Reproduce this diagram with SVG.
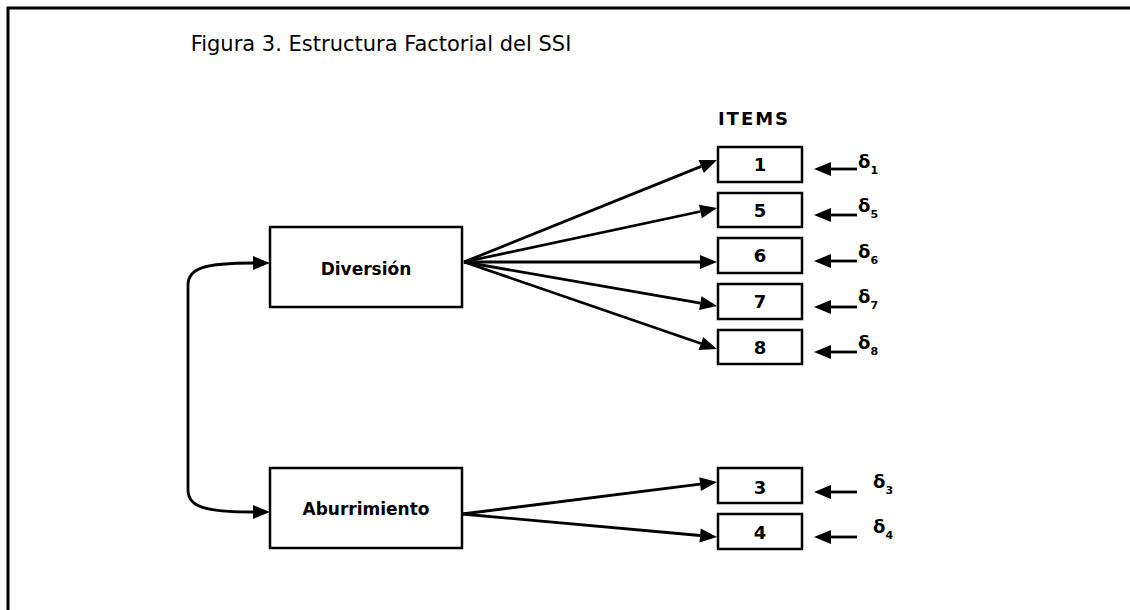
<svg xmlns="http://www.w3.org/2000/svg" width="1130" height="610" viewBox="0 0 1130 610">
  <style>
    .box { fill: #fff; stroke: #000; stroke-width: 2.5; }
    .edge { fill: none; stroke: #000; stroke-width: 2.8; }
    .lbl { font-family: "DejaVu Sans", "Liberation Sans", sans-serif; font-weight: bold; fill: #000; text-anchor: middle; }
    .factor { font-size: 17px; }
    .item { font-size: 18px; }
    .err { font-family: "DejaVu Sans", "Liberation Sans", sans-serif; font-size: 18px; font-weight: bold; fill: #000; }
    .sub { font-size: 11px; font-weight: bold; }
  </style>
  <defs>
    <marker id="head" markerUnits="userSpaceOnUse" markerWidth="17" markerHeight="14" viewBox="0 -7 17 14" refX="0" refY="0" orient="auto-start-reverse" overflow="visible">
      <path d="M0,-7 L17,0 L0,7 z" fill="#000"/>
    </marker>
  </defs>

  <rect width="1130" height="610" fill="#fff"/>
  <!-- frame -->
  <path d="M8,612 V8 H1132" fill="none" stroke="#000" stroke-width="3"/>

  <text x="381" y="51" font-family="DejaVu Sans, Liberation Sans, sans-serif" font-size="21" text-anchor="middle" fill="#000">Figura 3. Estructura Factorial del SSI</text>
  <text x="754" y="125" class="lbl" font-size="18" letter-spacing="2">ITEMS</text>

  <!-- factors -->
  <g id="diversion">
    <rect class="box" x="270" y="227" width="192" height="80"/>
    <text class="lbl factor" x="366" y="275">Diversión</text>
  </g>
  <g id="aburrimiento">
    <rect class="box" x="270" y="468" width="192" height="80"/>
    <text class="lbl factor" x="366" y="515">Aburrimiento</text>
  </g>

  <!-- indicators -->
  <g id="item1">
    <rect class="box" x="718" y="147" width="84" height="35"/>
    <text class="lbl item" x="760" y="171">1</text>
  </g>
  <g id="item5">
    <rect class="box" x="718" y="193" width="84" height="34"/>
    <text class="lbl item" x="760" y="217">5</text>
  </g>
  <g id="item6">
    <rect class="box" x="718" y="238" width="84" height="35"/>
    <text class="lbl item" x="760" y="262">6</text>
  </g>
  <g id="item7">
    <rect class="box" x="718" y="284" width="84" height="35"/>
    <text class="lbl item" x="760" y="308">7</text>
  </g>
  <g id="item8">
    <rect class="box" x="718" y="330" width="84" height="34"/>
    <text class="lbl item" x="760" y="354">8</text>
  </g>
  <g id="item3">
    <rect class="box" x="718" y="468" width="84" height="35"/>
    <text class="lbl item" x="760" y="494">3</text>
  </g>
  <g id="item4">
    <rect class="box" x="718" y="514" width="84" height="35"/>
    <text class="lbl item" x="760" y="539">4</text>
  </g>

  <!-- error terms -->
  <g id="errors">
    <text class="err" x="858" y="168">δ<tspan class="sub" dy="6">1</tspan></text>
    <text class="err" x="858" y="212">δ<tspan class="sub" dy="6">5</tspan></text>
    <text class="err" x="858" y="258">δ<tspan class="sub" dy="6">6</tspan></text>
    <text class="err" x="858" y="303">δ<tspan class="sub" dy="6">7</tspan></text>
    <text class="err" x="858" y="349">δ<tspan class="sub" dy="6">8</tspan></text>
    <text class="err" x="873" y="488">δ<tspan class="sub" dy="6">3</tspan></text>
    <text class="err" x="873" y="533">δ<tspan class="sub" dy="6">4</tspan></text>
  </g>

  <g id="connectors">
    <!-- loadings -->
    <path class="edge" marker-end="url(#head)" d="M464,262 L701.2,166.4"/>
    <path class="edge" marker-end="url(#head)" d="M464,262 L700.4,211.5"/>
    <path class="edge" marker-end="url(#head)" d="M464,262 L700,262"/>
    <path class="edge" marker-end="url(#head)" d="M464,262 L700.3,303.1"/>
    <path class="edge" marker-end="url(#head)" d="M464,262 L700.9,343.5"/>
    <path class="edge" marker-end="url(#head)" d="M462,514 L700.1,484.1"/>
    <path class="edge" marker-end="url(#head)" d="M462,514 L700.1,535.5"/>
    <!-- error arrows -->
    <path class="edge" marker-end="url(#head)" d="M857,169 H831"/>
    <path class="edge" marker-end="url(#head)" d="M857,215 H831"/>
    <path class="edge" marker-end="url(#head)" d="M857,261 H831"/>
    <path class="edge" marker-end="url(#head)" d="M857,307 H831"/>
    <path class="edge" marker-end="url(#head)" d="M857,352 H831"/>
    <path class="edge" marker-end="url(#head)" d="M857,492 H831"/>
    <path class="edge" marker-end="url(#head)" d="M857,537 H831"/>
    <!-- factor covariance -->
    <path class="edge" marker-start="url(#head)" marker-end="url(#head)" d="M253,263 C205,263 188,268 188,285 V490 C188,507 205,512 253,512"/>
  </g>
</svg>
